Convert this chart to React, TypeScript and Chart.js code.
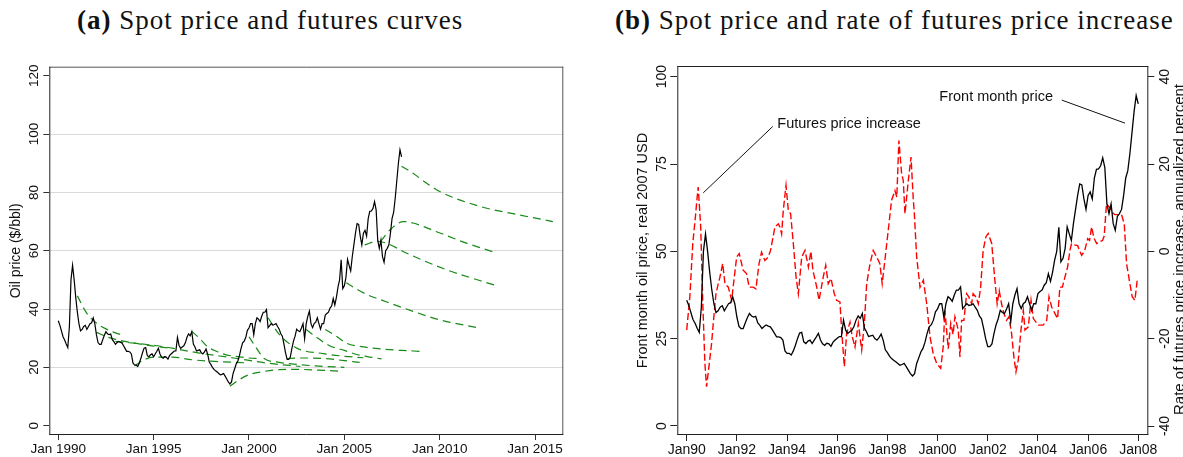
import React, { useEffect, useRef } from 'react';
import { Chart, registerables } from 'chart.js';

Chart.register(...registerables);

const SANS = '"Liberation Sans", Arial, Helvetica, sans-serif';
const SERIF = '"Liberation Serif", "Times New Roman", serif';
const GREEN = '#178a17';

// ---------- Data ----------
// Front-month (spot) oil price, monthly from Jan 1990 to Jan 2008
const spotStartYear = 1990;
const spotPrice = [
  36, 34.5, 32.5, 30.5, 29.4, 28, 26.8, 34, 50, 55, 50, 44,
  39, 35, 32.5, 33, 34, 34.4, 33, 34, 35, 35.3, 37, 35,
  31.2, 28.5, 27.9, 27.9, 29.5, 31, 32.2, 31.5, 31.2, 31.4, 29.5, 28.8,
  27.9, 28.5, 28.9, 28.6, 28.4, 27.5, 26.5, 25.5, 25.5, 25.3, 24.6, 21.5,
  20.8, 20.8, 20.3, 21.5, 23.1, 25, 26.6, 26.8, 24.1, 23.6, 24.3, 24.6,
  23.6, 24.6, 25.5, 26.5, 24.6, 23.5, 23.1, 23.7, 23.5, 22.8, 24, 24.6,
  25.1, 25.6, 25.6, 30.3, 27.5, 26.5, 27, 27.4, 28.5, 30.3, 31.5, 30.8,
  32.2, 28, 27, 25.6, 25.8, 26, 25, 24.6, 25.3, 26.3, 24.5, 21.8,
  21, 20, 19.3, 18.8, 18.4, 17.9, 17.4, 17.6, 17.9, 17, 16, 15,
  14.3, 15, 17.9, 19.5, 21.2, 22.2, 24, 26.5, 28.4, 29, 30.3, 32.7,
  33.5, 35, 35, 31.2, 35, 37, 36.5, 35.7, 37.5, 38.9, 38.9, 39.8,
  33.6, 34.3, 35, 34.5, 34.7, 35, 34, 33.1, 31.5, 30.7, 28, 25,
  22.7, 22.7, 23.5, 26.5, 29, 30.7, 33.1, 32.5, 32.2, 33.5, 35, 29.8,
  35, 37.5, 39.3, 35, 33.6, 35, 35.5, 37, 35, 33.1, 35, 35,
  37.9, 38.5, 38.9, 40.3, 41, 43.6, 41.4, 44, 47.5, 50, 56.9, 47,
  48, 50.8, 57, 55, 53.1, 58, 62, 66, 69.3, 69, 65, 62,
  66, 67, 65, 71, 73.5, 73.6, 74.5, 76.8, 74, 63.6, 60.8, 63.6,
  58, 56, 60, 60.8, 62, 66, 71, 73.1, 78, 84, 90, 94.6,
  92.2,
];

// Futures curves (panel a): delivery dates (decimal years) and prices
const curveYears = [
  [1991.0, 1991.5, 1992.0, 1992.5, 1993.0, 1993.4],
  [1992.0, 1992.5, 1993.0, 1994.0, 1995.0, 1995.8],
  [1993.0, 1995.2, 1997.4, 1999.2, 2000.9, 2002.7],
  [1994.0, 1994.5, 1995.0, 1996.0, 1997.0, 1998.0, 1999.0, 2000.0],
  [1997.0, 1997.4, 1997.8, 1998.3, 1998.8, 1999.5, 2000.0, 2000.5],
  [1999.0, 1999.5, 2000.0, 2000.8, 2001.6, 2002.5, 2003.5, 2004.9],
  [2000.0, 2000.4, 2000.8, 2001.5, 2002.5, 2003.5, 2005.0],
  [2001.0, 2001.6, 2002.5, 2003.9, 2005.0, 2006.0],
  [2002.0, 2002.5, 2003.0, 2004.0, 2005.0, 2005.8],
  [2003.0, 2003.5, 2004.2, 2005.0, 2005.6, 2006.2, 2006.95],
  [2004.0, 2004.6, 2005.1, 2006.0, 2006.9, 2008.0, 2008.95],
  [2005.1, 2005.6, 2006.2, 2006.9, 2008.6, 2010.0, 2011.9],
  [2006.07, 2006.7, 2007.2, 2008.25, 2010.35, 2012.97],
  [2006.9, 2007.4, 2008.1, 2008.6, 2009.8, 2011.4, 2012.9],
  [2008.0, 2008.6, 2009.3, 2010.0, 2012.1, 2013.84, 2015.93],
];
const curvePrices = [
  [44.5, 38.5, 35.2, 33.2, 31.8, 31.0],
  [32.0, 30.6, 29.6, 28.3, 27.3, 26.6],
  [28.9, 27.4, 24.9, 23.2, 21.5, 20.3],
  [20.5, 22.6, 23.5, 23.5, 22.6, 22.1, 21.8, 21.5],
  [32.3, 30.0, 27.2, 25.5, 24.3, 23.6, 23.2, 23.0],
  [13.5, 15.8, 17.5, 18.6, 19.2, 19.3, 19.1, 18.6],
  [30.5, 26.5, 23.0, 21.8, 21.0, 20.5, 20.0],
  [37.0, 31.2, 26.6, 24.7, 23.8, 23.3],
  [23.0, 23.2, 23.2, 23.0, 22.3, 21.7],
  [33.0, 30.5, 27.5, 25.8, 24.5, 23.7, 22.9],
  [33.0, 30.6, 28.3, 27.0, 26.3, 25.8, 25.5],
  [49.0, 47.0, 44.9, 43.2, 39.2, 36.3, 33.7],
  [62.0, 63.2, 62.6, 59.2, 53.5, 48.0],
  [63.2, 67.2, 70.0, 69.5, 66.6, 62.6, 59.4],
  [89.0, 86.6, 83.2, 80.3, 75.2, 72.7, 70.0],
];

// Rate of futures price increase (panel b), months since Jan 1990 and annualized percent
const rateMonths = [
  0, 1.5, 2.9, 4, 5, 5.5, 6.7, 7.7, 8.7, 9.5, 10.8, 11.9, 12.7, 14, 15.1, 15.9, 17.2, 18.3, 19.9, 21.5,
  22.6, 23.9, 25.1, 27, 28.6, 29.9, 31.8, 33.1, 34.6, 35.8, 37.4, 39, 40.1, 42.2, 43.8, 44.6, 45.4, 46.2,
  47.5, 48.6, 49.7, 51, 52.3, 53.4, 55, 56.6, 58.2, 59.4, 60.4, 62.2, 63.3, 65.3, 66.5, 67.7, 69, 70.6,
  71.7, 73.3, 74.1, 75.4, 76.5, 78.1, 79.2, 80.5, 82.1, 83.7, 84.9, 86.1, 87.7, 89.2, 90.9, 92.4, 93.5,
  94.8, 96.4, 98, 99.6, 100.5, 101.5, 102.8, 103.6, 104.4, 106, 107.3, 108.4, 108.8, 110, 111.6, 113.2,
  114.8, 116.4, 117.9, 119.6, 121.5, 122.7, 123.5, 125.1, 126.3, 127.4, 128.3, 129.9, 130.7, 131.5,
  132.6, 133.9, 135, 136.3, 137, 138.4, 139.5, 140.6, 141.8, 143.1, 144.2, 145.9, 147.4, 148.5, 149.5,
  150.6, 151.7, 153, 154.1, 155.4, 156.5, 157.5, 158.6, 159.9, 161, 161.8, 163.4, 164.7, 165.8, 168.2,
  170.5, 172.2, 173.3, 174.6, 176.1, 177.4, 178.5, 179.7, 180.9, 182.2, 183.3, 184.1, 185.5, 187, 188.9,
  190.3, 191.8, 192.7, 193.7, 194.8, 196.1, 197.6, 198.9, 199.7, 200.8, 202.4, 203.5, 204.8, 206.3, 208,
  209.3, 210.4, 212, 213.1, 214.4, 215.5,
];
const rateValues = [
  -18, -10.4, 1.8, 7.1, 12.4, 14.7, 5.6, -12, -25.7, -31, -25.7, -21.1, -16.5, -9.7, -7.4, -5.9, -2.8, -7.4, -8.2, -11.2,
  -6.6, -1.3, -0.5, -4.3, -5.1, -8.2, -8.2, -8.6, -2.8, -0.2, -2.1, -1.3, 0.2, 5.6, 6.3, 5.6, 4, 9.4,
  15.1, 9.4, 8.6, 1.8, -5.9, -9.7, -1.3, 0.2, -3.6, 0, -4.4, -8.2, -11.2, -5.9, -3.2, -7.4, -6.2, -9.7,
  -11.2, -11.6, -18, -26.4, -18.8, -16.2, -19.6, -21.9, -16.5, -22.6, -17, -7.4, -2.8, 0.2, -1.3, -2.8, -7.4,
  -2, 4.8, 11.7, 13.9, 12.4, 25.4, 17.8, 16.2, 8.6, 16.2, 21.6, 11.7, 9.4, -1.3, -8.2, -6.6,
  -12, -19.6, -23.4, -25.7, -26.8, -21.9, -13.5, -22.3, -16.5, -19, -15, -18, -24.2, -15.8,
  -15.8, -9.7, -10.5, -12, -9.7, -10.5, -12, -8.2, 0.2, 3.3, 4.1, 1.8, -6.6, -12, -9,
  -12, -14.2, -15.8, -15, -18.8, -24.2, -27.6, -24.9, -18, -13.5, -18, -17.3, -11.2, -15.4, -16.9,
  -16.9, -15.8, -10.4, -12.8, -14.2, -15.4, -8.2, -8.2, -5.9, -3.6, 0.2, 1.8, 1.5, 1.3, -0.9,
  0, 2.9, 2.5, 5.6, 3, 1.8, 2.2, 2.5, 3.5, 10.9, 10, 8.9, 8.4, 8.4, 8.4,
  6.3, -2.8, -7.4, -10.4, -11.2, -6.6,
];

// Ticks and labels
const aXTicks = [1990, 1995, 2000, 2005, 2010, 2015];
const aXTickLabels = ['Jan 1990', 'Jan 1995', 'Jan 2000', 'Jan 2005', 'Jan 2010', 'Jan 2015'];
const aYTicks = [0, 20, 40, 60, 80, 100, 120];
const bXTicks = [1990, 1992, 1994, 1996, 1998, 2000, 2002, 2004, 2006, 2008];
const bXTickLabels = ['Jan90', 'Jan92', 'Jan94', 'Jan96', 'Jan98', 'Jan00', 'Jan02', 'Jan04', 'Jan06', 'Jan08'];
const bLeftTicks = [0, 25, 50, 75, 100];
const bRightTicks = [-40, -20, 0, 20, 40];

// Annotations (data coordinates)
const annFuturesText = 'Futures price increase';
const annFuturesTextAt = [1993.61, 29.1]; // x, right-axis value
const annFuturesLine = [[1993.43, 28.6], [1990.66, 13.4]];
const annFrontText = 'Front month price';
const annFrontTextAt = [2004.6, 94.3]; // x, left-axis value (text right end)
const annFrontLine = [[2004.95, 93.3], [2007.47, 86.7]];

const monthToYear = (m: number) => spotStartYear + m / 12;

function vText(ctx: any, text: string, x: number, y: number, size: number, color = '#111') {
  ctx.save();
  ctx.translate(x, y);
  ctx.rotate(-Math.PI / 2);
  ctx.font = `${size}px ${SANS}`;
  ctx.fillStyle = color;
  ctx.textAlign = 'center';
  ctx.textBaseline = 'alphabetic';
  ctx.fillText(text, 0, 0);
  ctx.restore();
}

function line(ctx: any, x1: number, y1: number, x2: number, y2: number) {
  ctx.beginPath();
  ctx.moveTo(x1, y1);
  ctx.lineTo(x2, y2);
  ctx.stroke();
}

function PanelA() {
  const ref = useRef<HTMLCanvasElement>(null);
  useEffect(() => {
    const canvas = ref.current as HTMLCanvasElement;
    const spotSet = {
      data: spotPrice.map((v, i) => ({ x: monthToYear(i), y: v })),
      borderColor: '#000',
      borderWidth: 1.2,
      pointRadius: 0,
      tension: 0,
      fill: false,
    };
    const curveSets = curveYears.map((ys, k) => ({
      data: ys.map((yr, j) => ({ x: yr, y: curvePrices[k][j] })),
      borderColor: GREEN,
      borderWidth: 1.2,
      borderDash: [8, 5],
      pointRadius: 0,
      cubicInterpolationMode: 'monotone',
      fill: false,
    }));
    const plugin = {
      id: 'panelA',
      afterDraw(chart: any) {
        const { ctx, chartArea: a, scales } = chart;
        ctx.save();
        ctx.lineWidth = 1;
        ctx.strokeStyle = '#555';
        line(ctx, a.left, a.top + 0.5, a.right, a.top + 0.5);
        line(ctx, a.right - 0.5, a.top, a.right - 0.5, a.bottom);
        ctx.strokeStyle = '#222';
        line(ctx, a.left + 0.5, a.top, a.left + 0.5, a.bottom);
        line(ctx, a.left, a.bottom - 0.5, a.right, a.bottom - 0.5);
        aYTicks.forEach((v) => vText(ctx, String(v), a.left - 11.8, scales.y.getPixelForValue(v), 13.5));
        vText(ctx, 'Oil price ($/bbl)', 19.5, (a.top + a.bottom) / 2, 14);
        ctx.restore();
      },
    };
    const chart = new Chart(canvas, {
      type: 'line',
      data: { datasets: [spotSet, ...curveSets] as any },
      options: {
        responsive: false,
        animation: false,
        events: [],
        layout: { padding: { top: 66.7, right: 26.7, left: 0, bottom: 0 }, autoPadding: false } as any,
        plugins: { legend: { display: false }, tooltip: { enabled: false }, title: { display: false } },
        scales: {
          x: {
            type: 'linear',
            min: 1989.53,
            max: 2016.48,
            afterBuildTicks: (s: any) => { s.ticks = aXTicks.map((v) => ({ value: v })); },
            afterFit: (s: any) => { s.height = 22; },
            grid: { drawOnChartArea: false, drawTicks: true, tickLength: 5, tickColor: '#333', tickWidth: 1 },
            border: { display: false },
            ticks: {
              autoSkip: false, maxRotation: 0, minRotation: 0, padding: 1, color: '#111',
              font: { family: SANS, size: 13.5 },
              callback: (_v: any, i: number) => aXTickLabels[i],
            },
          },
          y: {
            type: 'linear',
            min: -3.2,
            max: 123.1,
            afterBuildTicks: (s: any) => { s.ticks = aYTicks.map((v) => ({ value: v })); },
            afterFit: (s: any) => { s.width = 49.3; },
            grid: {
              color: (c: any) => (c.tick && (c.tick.value === 0 || c.tick.value === 120) ? 'rgba(0,0,0,0)' : '#dadada'),
              lineWidth: 1,
              drawTicks: true,
              tickLength: 6,
              tickColor: '#333',
              tickWidth: 1,
            },
            border: { display: false },
            ticks: { color: 'rgba(0,0,0,0)', font: { family: SANS, size: 13.5 } },
          },
        } as any,
      },
      plugins: [plugin],
    } as any);
    return () => chart.destroy();
  }, []);
  return (
    <canvas
      ref={ref}
      width={590}
      height={457}
      style={{ position: 'absolute', left: 0, top: 0, width: 590, height: 457 }}
    />
  );
}

function PanelB() {
  const ref = useRef<HTMLCanvasElement>(null);
  useEffect(() => {
    const canvas = ref.current as HTMLCanvasElement;
    const spotSet = {
      data: spotPrice.map((v, i) => ({ x: monthToYear(i), y: v })),
      yAxisID: 'y',
      borderColor: '#000',
      borderWidth: 1.3,
      pointRadius: 0,
      tension: 0,
      fill: false,
    };
    const rateSet = {
      data: rateMonths.map((m, i) => ({ x: monthToYear(m), y: rateValues[i] })),
      yAxisID: 'y2',
      borderColor: '#ff0000',
      borderWidth: 1.4,
      borderDash: [7, 3],
      pointRadius: 0,
      tension: 0,
      fill: false,
    };
    const plugin = {
      id: 'panelB',
      afterDraw(chart: any) {
        const { ctx, chartArea: a, scales } = chart;
        const sx = scales.x, sy = scales.y, sy2 = scales.y2;
        ctx.save();
        ctx.lineWidth = 1;
        ctx.strokeStyle = '#222';
        line(ctx, a.left, a.top + 0.5, a.right, a.top + 0.5);
        line(ctx, a.right - 0.5, a.top, a.right - 0.5, a.bottom);
        line(ctx, a.left + 0.5, a.top, a.left + 0.5, a.bottom);
        line(ctx, a.left, a.bottom - 0.5, a.right, a.bottom - 0.5);
        bLeftTicks.forEach((v) => vText(ctx, String(v), a.left - 11.8, sy.getPixelForValue(v), 14));
        bRightTicks.forEach((v) => vText(ctx, String(v), a.right + 20.2, sy2.getPixelForValue(v), 14));
        vText(ctx, 'Front month oil price, real 2007 USD', a.left - 30.3, (a.top + a.bottom) / 2, 14.5);
        const rt = 'Rate of futures price increase, annualized percent';
        ctx.font = `15px ${SANS}`;
        const w = ctx.measureText(rt).width;
        vText(ctx, rt, a.right + 35.2, 415 - w / 2, 15);

        // annotations
        ctx.strokeStyle = '#111';
        ctx.lineWidth = 1;
        line(
          ctx,
          sx.getPixelForValue(annFuturesLine[0][0]), sy2.getPixelForValue(annFuturesLine[0][1]),
          sx.getPixelForValue(annFuturesLine[1][0]), sy2.getPixelForValue(annFuturesLine[1][1]),
        );
        line(
          ctx,
          sx.getPixelForValue(annFrontLine[0][0]), sy.getPixelForValue(annFrontLine[0][1]),
          sx.getPixelForValue(annFrontLine[1][0]), sy.getPixelForValue(annFrontLine[1][1]),
        );
        ctx.fillStyle = '#111';
        ctx.font = `14.5px ${SANS}`;
        ctx.textBaseline = 'middle';
        ctx.textAlign = 'left';
        ctx.fillText(annFuturesText, sx.getPixelForValue(annFuturesTextAt[0]), sy2.getPixelForValue(annFuturesTextAt[1]));
        ctx.textAlign = 'right';
        ctx.fillText(annFrontText, sx.getPixelForValue(annFrontTextAt[0]), sy.getPixelForValue(annFrontTextAt[1]));
        ctx.restore();
      },
    };
    const chart = new Chart(canvas, {
      type: 'line',
      data: { datasets: [spotSet, rateSet] as any },
      options: {
        responsive: false,
        animation: false,
        events: [],
        layout: { padding: { top: 66, right: 0, left: 0, bottom: 0 }, autoPadding: false } as any,
        plugins: { legend: { display: false }, tooltip: { enabled: false }, title: { display: false } },
        scales: {
          x: {
            type: 'linear',
            min: 1989.625,
            max: 2008.4,
            afterBuildTicks: (s: any) => { s.ticks = bXTicks.map((v) => ({ value: v })); },
            afterFit: (s: any) => { s.height = 22; },
            grid: { drawOnChartArea: false, drawTicks: true, tickLength: 6, tickColor: '#222', tickWidth: 1 },
            border: { display: false },
            ticks: {
              autoSkip: false, maxRotation: 0, minRotation: 0, padding: 1, color: '#111',
              font: { family: SANS, size: 14 },
              callback: (_v: any, i: number) => bXTickLabels[i],
            },
          },
          y: {
            type: 'linear',
            position: 'left',
            min: -2.58,
            max: 103.06,
            afterBuildTicks: (s: any) => { s.ticks = bLeftTicks.map((v) => ({ value: v })); },
            afterFit: (s: any) => { s.width = 87.3; },
            grid: { drawOnChartArea: false, drawTicks: true, tickLength: 7, tickColor: '#222', tickWidth: 1 },
            border: { display: false },
            ticks: { color: 'rgba(0,0,0,0)', font: { family: SANS, size: 14 } },
          },
          y2: {
            type: 'linear',
            position: 'right',
            min: -42.06,
            max: 42.45,
            afterBuildTicks: (s: any) => { s.ticks = bRightTicks.map((v) => ({ value: v })); },
            afterFit: (s: any) => { s.width = 34.7; },
            grid: { drawOnChartArea: false, drawTicks: true, tickLength: 6, tickColor: '#222', tickWidth: 1 },
            border: { display: false },
            ticks: { color: 'rgba(0,0,0,0)', font: { family: SANS, size: 14 } },
          },
        } as any,
      },
      plugins: [plugin],
    } as any);
    return () => chart.destroy();
  }, []);
  return (
    <canvas
      ref={ref}
      width={593}
      height={457}
      style={{ position: 'absolute', left: 590, top: 0, width: 593, height: 457 }}
    />
  );
}

const titleStyle: React.CSSProperties = {
  position: 'absolute',
  top: 7,
  fontFamily: SERIF,
  fontSize: 27,
  lineHeight: '27px',
  letterSpacing: '1px',
  whiteSpace: 'nowrap',
  color: '#111',
};

export default function App() {
  return (
    <div style={{ position: 'absolute', left: 0, top: 0, width: 1183, height: 457, overflow: 'hidden', background: '#fff' }}>
      <div style={{ ...titleStyle, left: 77 }}>
        <b>(a)</b> Spot price and futures curves
      </div>
      <div style={{ ...titleStyle, left: 615 }}>
        <b>(b)</b> Spot price and rate of futures price increase
      </div>
      <PanelA />
      <PanelB />
    </div>
  );
}
